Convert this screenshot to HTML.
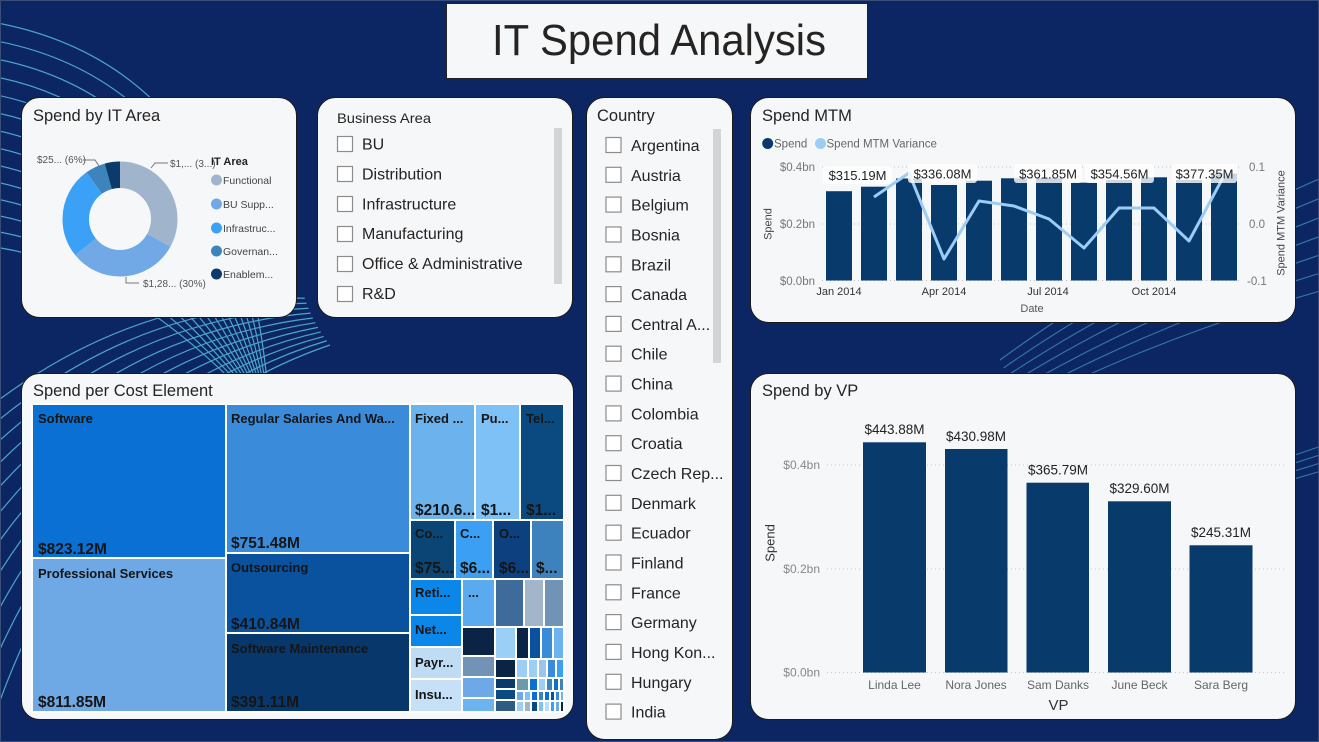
<!DOCTYPE html>
<html><head><meta charset="utf-8"><style>
html,body{margin:0;padding:0;width:1319px;height:742px;overflow:hidden;background:#0c2664;}
svg{display:block;font-family:"Liberation Sans",Arial,sans-serif;}
</style></head><body>
<svg width="1319" height="742" viewBox="0 0 1319 742" xmlns="http://www.w3.org/2000/svg">
<defs>
<path id="fa" d="M -20 20 Q 250 60 270 420" fill="none"/>
<path id="fb" d="M -20 760 Q 80 430 330 345" fill="none"/>
<path id="fc" d="M 1340 170 Q 1150 250 1000 360" fill="none"/>
<path id="fd" d="M 1340 440 Q 1150 500 900 640" fill="none"/>
</defs>
<rect width="1319" height="742" fill="#0c2664"/>
<!-- swirl lines -->
<g stroke="#58bcd8" stroke-width="1.2" opacity="0.85" fill="none">
<use href="#fa"/><use href="#fa" transform="rotate(-3 270 420)"/><use href="#fa" transform="rotate(-6 270 420)"/><use href="#fa" transform="rotate(-9 270 420)"/><use href="#fa" transform="rotate(-12 270 420)"/><use href="#fa" transform="rotate(-15 270 420)"/><use href="#fa" transform="rotate(-18 270 420)"/><use href="#fa" transform="rotate(-21 270 420)"/><use href="#fa" transform="rotate(-24 270 420)"/><use href="#fa" transform="rotate(-27 270 420)"/><use href="#fa" transform="rotate(-30 270 420)"/><use href="#fa" transform="rotate(-33 270 420)"/><use href="#fa" transform="rotate(-36 270 420)"/><use href="#fa" transform="rotate(-39 270 420)"/>
<use href="#fb"/><use href="#fb" transform="rotate(2 450 250)"/><use href="#fb" transform="rotate(4 450 250)"/><use href="#fb" transform="rotate(6 450 250)"/><use href="#fb" transform="rotate(8 450 250)"/><use href="#fb" transform="rotate(10 450 250)"/><use href="#fb" transform="rotate(12 450 250)"/><use href="#fb" transform="rotate(14 450 250)"/><use href="#fb" transform="rotate(16 450 250)"/><use href="#fb" transform="rotate(18 450 250)"/><use href="#fb" transform="rotate(20 450 250)"/>
</g>
<g stroke="#58bcd8" stroke-width="1.1" opacity="0.55" fill="none">
<use href="#fc"/><use href="#fc" transform="rotate(1.5 700 500)"/><use href="#fc" transform="rotate(3 700 500)"/><use href="#fc" transform="rotate(4.5 700 500)"/><use href="#fc" transform="rotate(6 700 500)"/><use href="#fc" transform="rotate(7.5 700 500)"/><use href="#fc" transform="rotate(9 700 500)"/>
<use href="#fd"/><use href="#fd" transform="rotate(1 900 640)"/><use href="#fd" transform="rotate(2 900 640)"/><use href="#fd" transform="rotate(3 900 640)"/>
</g>
<rect x="0.5" y="0.5" width="1318" height="741" fill="none" stroke="#3a4c78" stroke-width="1"/>

<!-- Title -->
<rect x="446.5" y="3.5" width="421" height="75" fill="#f6f7f9" stroke="#222" stroke-width="1"/>
<text x="492" y="55" font-size="43.5" fill="#252423" textLength="334" lengthAdjust="spacingAndGlyphs">IT Spend Analysis</text>

<!-- Cards -->
<g fill="#f6f7f9" stroke="#1b1b1b" stroke-width="1">
<rect x="21.5" y="97.5" width="275" height="220" rx="18"/>
<rect x="317.5" y="97.5" width="255" height="220" rx="18"/>
<rect x="586.5" y="97.5" width="146" height="642" rx="18"/>
<rect x="750.5" y="97.5" width="545" height="225" rx="18"/>
<rect x="21.5" y="373.5" width="552" height="346" rx="18"/>
<rect x="750.5" y="373.5" width="545" height="346" rx="18"/>
</g>

<!-- Spend by IT Area -->
<text x="33" y="121" font-size="16.5" fill="#252423">Spend by IT Area</text>
<g fill="none" stroke-width="26.5" transform="rotate(-90 120 219)">
<circle cx="120" cy="219" r="44.25" pathLength="100" stroke="#a0b5cc" stroke-dasharray="33 100" stroke-dashoffset="0"/>
<circle cx="120" cy="219" r="44.25" pathLength="100" stroke="#70a9e6" stroke-dasharray="31.2 100" stroke-dashoffset="-33"/>
<circle cx="120" cy="219" r="44.25" pathLength="100" stroke="#3ba1f7" stroke-dasharray="25.9 100" stroke-dashoffset="-64.2"/>
<circle cx="120" cy="219" r="44.25" pathLength="100" stroke="#3d84bd" stroke-dasharray="5.6 100" stroke-dashoffset="-90.1"/>
<circle cx="120" cy="219" r="44.25" pathLength="100" stroke="#0b3a6b" stroke-dasharray="4.3 100" stroke-dashoffset="-95.7"/>
</g>
<g stroke="#777" stroke-width="1" fill="none">
<polyline points="83,160 95,160 99,166"/>
<polyline points="151,168 155,163 168,163"/>
<polyline points="126,277 126,283 139,283"/>
</g>
<g font-size="10" fill="#555">
<text x="37" y="163">$25... (6%)</text>
<text x="170" y="167">$1,... (3...)</text>
<text x="143" y="287">$1,28... (30%)</text>
</g>
<text x="211" y="165" font-size="11" font-weight="bold" fill="#222">IT Area</text>
<circle cx="216.5" cy="180" r="5.5" fill="#a0b5cc"/>
<circle cx="216.5" cy="204" r="5.5" fill="#70a9e6"/>
<circle cx="216.5" cy="228" r="5.5" fill="#3ba1f7"/>
<circle cx="216.5" cy="251" r="5.5" fill="#3d84bd"/>
<circle cx="216.5" cy="274" r="5.5" fill="#0b3a6b"/>
<g font-size="10.5" fill="#444">
<text x="223" y="184">Functional</text>
<text x="223" y="208">BU Supp...</text>
<text x="223" y="232">Infrastruc...</text>
<text x="223" y="255">Governan...</text>
<text x="223" y="278">Enablem...</text>
</g>

<!-- Business Area -->
<text x="337" y="123" font-size="14" fill="#252423" textLength="94" lengthAdjust="spacingAndGlyphs">Business Area</text>
<rect x="554" y="128" width="8" height="156" fill="#d4d4d4"/>
<g fill="#fff" stroke="#8c8c8c" stroke-width="1.2">
<rect x="337.5" y="136.5" width="15" height="15"/>
<rect x="337.5" y="166.5" width="15" height="15"/>
<rect x="337.5" y="196.5" width="15" height="15"/>
<rect x="337.5" y="226.5" width="15" height="15"/>
<rect x="337.5" y="256.5" width="15" height="15"/>
<rect x="337.5" y="286.5" width="15" height="15"/>
</g>
<g font-size="16" fill="#252423">
<text x="362" y="149.5">BU</text>
<text x="362" y="179.5">Distribution</text>
<text x="362" y="209.5">Infrastructure</text>
<text x="362" y="239">Manufacturing</text>
<text x="362" y="269">Office &amp; Administrative</text>
<text x="362" y="299">R&amp;D</text>
</g>

<!-- Country -->
<text x="597" y="121" font-size="16.5" fill="#252423">Country</text>
<rect x="713" y="129" width="8" height="234" fill="#d4d4d4"/>
<g fill="#fff" stroke="#8c8c8c" stroke-width="1.2">
<rect x="606" y="137.5" width="15" height="15"/>
<rect x="606" y="167.3" width="15" height="15"/>
<rect x="606" y="197.1" width="15" height="15"/>
<rect x="606" y="227" width="15" height="15"/>
<rect x="606" y="256.8" width="15" height="15"/>
<rect x="606" y="286.6" width="15" height="15"/>
<rect x="606" y="316.4" width="15" height="15"/>
<rect x="606" y="346.2" width="15" height="15"/>
<rect x="606" y="376.1" width="15" height="15"/>
<rect x="606" y="405.9" width="15" height="15"/>
<rect x="606" y="435.7" width="15" height="15"/>
<rect x="606" y="465.5" width="15" height="15"/>
<rect x="606" y="495.3" width="15" height="15"/>
<rect x="606" y="525.2" width="15" height="15"/>
<rect x="606" y="555" width="15" height="15"/>
<rect x="606" y="584.8" width="15" height="15"/>
<rect x="606" y="614.6" width="15" height="15"/>
<rect x="606" y="644.4" width="15" height="15"/>
<rect x="606" y="674.3" width="15" height="15"/>
<rect x="606" y="704.1" width="15" height="15"/>
</g>
<g font-size="16" fill="#252423">
<text x="631" y="151">Argentina</text>
<text x="631" y="180.8">Austria</text>
<text x="631" y="210.6">Belgium</text>
<text x="631" y="240.5">Bosnia</text>
<text x="631" y="270.3">Brazil</text>
<text x="631" y="300.1">Canada</text>
<text x="631" y="329.9">Central A...</text>
<text x="631" y="359.7">Chile</text>
<text x="631" y="389.6">China</text>
<text x="631" y="419.4">Colombia</text>
<text x="631" y="449.2">Croatia</text>
<text x="631" y="479">Czech Rep...</text>
<text x="631" y="508.8">Denmark</text>
<text x="631" y="538.7">Ecuador</text>
<text x="631" y="568.5">Finland</text>
<text x="631" y="598.3">France</text>
<text x="631" y="628.1">Germany</text>
<text x="631" y="657.9">Hong Kon...</text>
<text x="631" y="687.8">Hungary</text>
<text x="631" y="717.6">India</text>
</g>

<!-- Spend MTM -->
<text x="762" y="121" font-size="16.5" fill="#252423">Spend MTM</text>
<circle cx="767.7" cy="143.5" r="5.5" fill="#093a6c"/>
<text x="774" y="147.5" font-size="11.5" fill="#666">Spend</text>
<circle cx="820.5" cy="143.5" r="5.5" fill="#9dcdf5"/>
<text x="826.5" y="147.5" font-size="11.5" fill="#666">Spend MTM Variance</text>
<g stroke="#c4c4c4" stroke-width="1" stroke-dasharray="1 3">
<line x1="822" x2="1240" y1="167" y2="167"/>
<line x1="822" x2="1240" y1="224" y2="224"/>
<line x1="822" x2="1240" y1="280.5" y2="280.5"/>
</g>
<g font-size="11.5" fill="#777">
<text x="815" y="171" text-anchor="end">$0.4bn</text>
<text x="815" y="228" text-anchor="end">$0.2bn</text>
<text x="815" y="285" text-anchor="end">$0.0bn</text>
<text x="1249" y="171">0.1</text>
<text x="1249" y="228">0.0</text>
<text x="1247" y="285">-0.1</text>
</g>
<g fill="#093a6c">
<rect x="826" y="191.2" width="26" height="89.3"/>
<rect x="861" y="186.7" width="26" height="93.8"/>
<rect x="896" y="178.5" width="26" height="102"/>
<rect x="931" y="185" width="26" height="95.5"/>
<rect x="966" y="180.7" width="26" height="99.8"/>
<rect x="1001" y="178.3" width="26" height="102.2"/>
<rect x="1036" y="178" width="26" height="102.5"/>
<rect x="1071" y="182.7" width="26" height="97.8"/>
<rect x="1106" y="180" width="26" height="100.5"/>
<rect x="1141" y="177.3" width="26" height="103.2"/>
<rect x="1176" y="180" width="26" height="100.5"/>
<rect x="1211" y="173.6" width="26" height="106.9"/>
</g>
<polyline points="874,197 909,173 944,259 979,201 1014,206 1049,219 1084,248 1119,208 1154,208 1189,241 1226,172" fill="none" stroke="#9dcdf5" stroke-width="3" stroke-linejoin="round"/>
<g fill="#ffffff" opacity="0.8">
<rect x="823" y="166" width="69" height="18" rx="3"/>
<rect x="908" y="164" width="69" height="19" rx="3"/>
<rect x="1014" y="164" width="68" height="19" rx="3"/>
<rect x="1085" y="164" width="69" height="19" rx="3"/>
<rect x="1172" y="164" width="65" height="19" rx="3"/>
</g>
<g font-size="13" fill="#222" text-anchor="middle">
<text x="857.5" y="180">$315.19M</text>
<text x="942.5" y="178.5">$336.08M</text>
<text x="1048" y="178.5">$361.85M</text>
<text x="1119.5" y="178.5">$354.56M</text>
<text x="1204.5" y="178.5">$377.35M</text>
</g>
<g font-size="11" fill="#333" text-anchor="middle">
<text x="839" y="295">Jan 2014</text>
<text x="944" y="295">Apr 2014</text>
<text x="1048" y="295">Jul 2014</text>
<text x="1154" y="295">Oct 2014</text>
</g>
<text x="1032" y="312" font-size="11" fill="#555" text-anchor="middle">Date</text>
<text x="771.5" y="224" font-size="11" fill="#444" text-anchor="middle" transform="rotate(-90 771.5 224)">Spend</text>
<text x="1284.5" y="223" font-size="11" fill="#444" text-anchor="middle" transform="rotate(-90 1284.5 223)">Spend MTM Variance</text>

<!-- Spend per Cost Element (treemap) -->
<text x="33" y="396" font-size="16.5" fill="#252423">Spend per Cost Element</text>
<g stroke="#ffffff" stroke-width="2">
<rect x="32" y="404" width="194" height="154" fill="#0b70d4"/>
<rect x="32" y="558" width="194" height="154" fill="#6fa9e5"/>
<rect x="226" y="404" width="184" height="149" fill="#3b8bdb"/>
<rect x="226" y="553" width="184" height="80" fill="#0a519e"/>
<rect x="226" y="633" width="184" height="79" fill="#08386b"/>
<rect x="410" y="404" width="65" height="116" fill="#6cb3ee"/>
<rect x="475" y="404" width="45" height="116" fill="#7dc1f6"/>
<rect x="520" y="404" width="44" height="116" fill="#0b4a80"/>
<rect x="410" y="520" width="45" height="59" fill="#0b4575"/>
<rect x="455" y="520" width="38" height="59" fill="#3ba0f4"/>
<rect x="493" y="520" width="38" height="59" fill="#0c407e"/>
<rect x="531" y="520" width="33" height="59" fill="#3e82bd"/>
<rect x="410" y="579" width="52" height="36" fill="#0b87ea"/>
<rect x="410" y="615" width="52" height="32" fill="#0b87ea"/>
<rect x="410" y="647" width="52" height="32" fill="#bfdcf5"/>
<rect x="410" y="679" width="52" height="33" fill="#c5e0f7"/>
<rect x="462" y="579" width="33" height="48" fill="#5aaaf0"/>
<rect x="495" y="579" width="29" height="48" fill="#3f6b9b"/>
<rect x="524" y="579" width="20" height="48" fill="#a3b5cb"/>
<rect x="544" y="579" width="20" height="48" fill="#7093b6"/>
<rect x="462" y="627" width="33" height="29" fill="#0b2445"/>
<rect x="462" y="656" width="33" height="21" fill="#7093b6"/>
<rect x="462" y="677" width="33" height="21" fill="#6ea8e6"/>
<rect x="462" y="698" width="33" height="14" fill="#6cb4f0"/>
<rect x="495" y="627" width="21" height="32" fill="#9ccff5"/>
<rect x="516" y="627" width="13" height="32" fill="#0b2445"/>
<rect x="529" y="627" width="12" height="32" fill="#0a519e"/>
<rect x="541" y="627" width="12" height="32" fill="#3b8bdb"/>
<rect x="553" y="627" width="11" height="32" fill="#6cb4f0"/>
<rect x="495" y="659" width="21" height="19" fill="#0b2445"/>
<rect x="516" y="659" width="12" height="19" fill="#9ccff5"/>
<rect x="528" y="659" width="10" height="19" fill="#9ccff5"/>
<rect x="538" y="659" width="9" height="19" fill="#a0c4e8"/>
<rect x="547" y="659" width="9" height="19" fill="#3b8bdb"/>
<rect x="556" y="659" width="8" height="19" fill="#3ba0f4"/>
<rect x="495" y="678" width="21" height="11" fill="#0a3a6b"/>
<rect x="495" y="689" width="21" height="11" fill="#0b4a80"/>
<rect x="495" y="700" width="21" height="12" fill="#2f5a84"/>
<rect x="516" y="678" width="13" height="13" fill="#6c9aa8"/>
<rect x="529" y="678" width="9" height="13" fill="#0b70d5"/>
<rect x="538" y="678" width="8" height="13" fill="#9ccff5"/>
<rect x="546" y="678" width="7" height="13" fill="#3e82bd"/>
<rect x="553" y="678" width="6" height="13" fill="#0b70d5"/>
<rect x="559" y="678" width="5" height="13" fill="#3e82bd"/>
<rect x="516" y="691" width="8" height="10" fill="#6ea8e6"/>
<rect x="524" y="691" width="7" height="10" fill="#7dc1f6"/>
<rect x="531" y="691" width="7" height="10" fill="#0b70d5"/>
<rect x="538" y="691" width="6" height="10" fill="#3e82bd"/>
<rect x="544" y="691" width="6" height="10" fill="#0b70d5"/>
<rect x="550" y="691" width="5" height="10" fill="#0a519e"/>
<rect x="555" y="691" width="5" height="10" fill="#3b8bdb"/>
<rect x="560" y="691" width="4" height="10" fill="#6cb4f0"/>
<rect x="516" y="701" width="8" height="11" fill="#9ccff5"/>
<rect x="524" y="701" width="7" height="11" fill="#a3b5cb"/>
<rect x="531" y="701" width="7" height="11" fill="#0b4a80"/>
<rect x="538" y="701" width="6" height="11" fill="#7dc1f6"/>
<rect x="544" y="701" width="6" height="11" fill="#bfdcf5"/>
<rect x="550" y="701" width="5" height="11" fill="#3ba0f4"/>
<rect x="555" y="701" width="5" height="11" fill="#6ea8e6"/>
<rect x="560" y="701" width="4" height="11" fill="#0b2445"/>
</g>
<g font-size="13" font-weight="bold" fill="#151515">
<text x="38" y="423">Software</text>
<text x="38" y="578">Professional Services</text>
<text x="231" y="423">Regular Salaries And Wa...</text>
<text x="231" y="572">Outsourcing</text>
<text x="231" y="653">Software Maintenance</text>
<text x="415" y="423">Fixed ...</text>
<text x="481" y="423">Pu...</text>
<text x="526" y="423">Tel...</text>
<text x="415" y="538">Co...</text>
<text x="460" y="538">C...</text>
<text x="499" y="538">O...</text>
<text x="415" y="597">Reti...</text>
<text x="468" y="597">...</text>
<text x="415" y="634">Net...</text>
<text x="415" y="667">Payr...</text>
<text x="415" y="699">Insu...</text>
</g>
<g font-size="15.5" font-weight="bold" fill="#151515">
<text x="38" y="554">$823.12M</text>
<text x="38" y="707">$811.85M</text>
<text x="231" y="548">$751.48M</text>
<text x="231" y="629">$410.84M</text>
<text x="231" y="707">$391.11M</text>
<text x="415" y="515">$210.6...</text>
<text x="481" y="515">$1...</text>
<text x="526" y="515">$1...</text>
<text x="415" y="573">$75...</text>
<text x="460" y="573">$6...</text>
<text x="499" y="573">$6...</text>
<text x="536" y="573">$...</text>
</g>

<!-- Spend by VP -->
<text x="762" y="396" font-size="16.5" fill="#252423">Spend by VP</text>
<g stroke="#c8c8c8" stroke-width="1" stroke-dasharray="1 3">
<line x1="827" x2="1284" y1="465" y2="465"/>
<line x1="827" x2="1284" y1="569" y2="569"/>
<line x1="827" x2="1284" y1="672.5" y2="672.5"/>
</g>
<g font-size="12" fill="#888" text-anchor="end">
<text x="820" y="469">$0.4bn</text>
<text x="820" y="573">$0.2bn</text>
<text x="820" y="676.5">$0.0bn</text>
</g>
<g fill="#093a6c">
<rect x="863" y="442.3" width="63" height="230.2"/>
<rect x="945" y="449" width="62.5" height="223.5"/>
<rect x="1026.5" y="482.7" width="62.5" height="189.8"/>
<rect x="1108" y="501.3" width="63" height="171.2"/>
<rect x="1189.5" y="545.3" width="63" height="127.2"/>
</g>
<g font-size="13.5" fill="#222" text-anchor="middle">
<text x="894.5" y="434">$443.88M</text>
<text x="976" y="441">$430.98M</text>
<text x="1058" y="474.5">$365.79M</text>
<text x="1139.5" y="493">$329.60M</text>
<text x="1221" y="537">$245.31M</text>
</g>
<g font-size="12" fill="#666" text-anchor="middle">
<text x="894.5" y="689">Linda Lee</text>
<text x="976" y="689">Nora Jones</text>
<text x="1058" y="689">Sam Danks</text>
<text x="1139.5" y="689">June Beck</text>
<text x="1221" y="689">Sara Berg</text>
</g>
<text x="1058.5" y="710" font-size="15" fill="#333" text-anchor="middle">VP</text>
<text x="774.5" y="543" font-size="13" fill="#333" text-anchor="middle" transform="rotate(-90 774.5 543)">Spend</text>
</svg>
</body></html>
